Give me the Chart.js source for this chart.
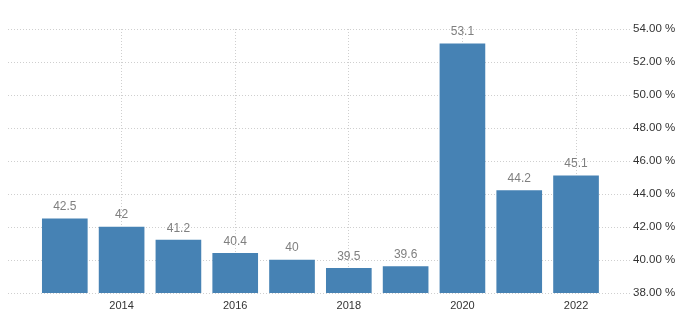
<!DOCTYPE html>
<html>
<head>
<meta charset="utf-8">
<script src="https://cdn.jsdelivr.net/npm/chart.js@4/dist/chart.umd.min.js"></script>
<style>
  html, body { margin: 0; padding: 0; background: #ffffff; }
  #wrap { width: 689px; height: 323px; position: relative; }
</style>
</head>
<body>
<div id="wrap"><canvas id="c" width="689" height="323"></canvas></div>
<script>
const years = [2013, 2014, 2015, 2016, 2017, 2018, 2019, 2020, 2021, 2022];
const values = [42.5, 42, 41.2, 40.4, 40, 39.5, 39.6, 53.1, 44.2, 45.1];
const xTickYears = [2014, 2016, 2018, 2020, 2022];
const yMin = 38, yMax = 54, yStep = 2;

const valueLabels = {
  id: 'valueLabels',
  afterDatasetsDraw(chart) {
    const ctx = chart.ctx;
    const meta = chart.getDatasetMeta(0);
    ctx.save();
    ctx.font = '12px "Liberation Sans", Arial, sans-serif';
    ctx.fillStyle = '#7f7f7f';
    ctx.textAlign = 'center';
    ctx.textBaseline = 'middle';
    meta.data.forEach((bar, i) => {
      ctx.fillText(String(values[i]), bar.x, bar.y - 12);
    });
    ctx.restore();
  }
};

new Chart(document.getElementById('c'), {
  type: 'bar',
  data: {
    datasets: [{
      data: years.map((y, i) => ({ x: y, y: values[i] })),
      backgroundColor: '#4682b4',
      borderWidth: 0,
      barThickness: 45
    }]
  },
  options: {
    responsive: false,
    animation: false,
    events: [],
    layout: { padding: { left: 8, top: 29, right: 0, bottom: 0 } },
    plugins: { legend: { display: false }, tooltip: { enabled: false } },
    scales: {
      x: {
        type: 'linear',
        min: 2012,
        max: 2022.95,
        offset: false,
        afterBuildTicks(scale) {
          scale.ticks = xTickYears.map(v => ({ value: v }));
        },
        afterFit(scale) { scale.height = 30; },
        ticks: {
          autoSkip: false,
          maxRotation: 0,
          padding: 6,
          color: '#333333',
          font: { family: '"Liberation Sans", Arial, sans-serif', size: 11 },
          callback: v => String(v)
        },
        grid: { offset: false, color: '#cfcfcf', drawTicks: false, lineWidth: 1 },
        border: { display: false, dash: [1, 2] }
      },
      y: {
        position: 'right',
        min: yMin,
        max: yMax,
        afterFit(scale) { scale.width = 59; },
        ticks: {
          stepSize: yStep,
          padding: 3,
          color: '#333333',
          font: { family: '"Liberation Sans", Arial, sans-serif', size: 11.5 },
          callback: v => v.toFixed(2) + ' %'
        },
        grid: { color: '#cfcfcf', drawTicks: false, lineWidth: 1 },
        border: { display: false, dash: [1, 2] }
      }
    }
  },
  plugins: [valueLabels]
});
</script>
</body>
</html>
